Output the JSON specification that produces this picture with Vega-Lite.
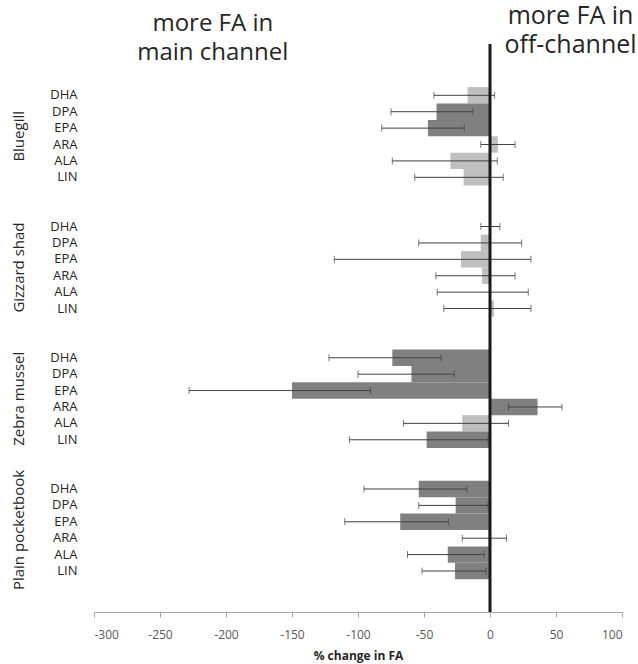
{
  "$schema": "https://vega.github.io/schema/vega-lite/v6.json",
  "autosize": {"type": "none"},
  "padding": {"left": 94, "top": 44, "right": 16, "bottom": 52},
  "width": 528,
  "height": 568,
  "config": {"view": {"stroke": null}, "font": "Open Sans"},
  "data": {"values": [
    {"g": "Bluegill", "fa": "DHA", "k": "Bluegill|DHA", "v": -17, "lo": -42.5, "hi": 3.5, "sig": "n"},
    {"g": "Bluegill", "fa": "DPA", "k": "Bluegill|DPA", "v": -40.5, "lo": -75, "hi": -13, "sig": "y"},
    {"g": "Bluegill", "fa": "EPA", "k": "Bluegill|EPA", "v": -47, "lo": -82, "hi": -19.5, "sig": "y"},
    {"g": "Bluegill", "fa": "ARA", "k": "Bluegill|ARA", "v": 6, "lo": -7, "hi": 19, "sig": "n"},
    {"g": "Bluegill", "fa": "ALA", "k": "Bluegill|ALA", "v": -30, "lo": -74, "hi": 5.5, "sig": "n"},
    {"g": "Bluegill", "fa": "LIN", "k": "Bluegill|LIN", "v": -20, "lo": -57, "hi": 10, "sig": "n"},
    {"g": "Gizzard shad", "fa": "DHA", "k": "Gizzard shad|DHA", "v": 0, "lo": -7, "hi": 7.5, "sig": "n"},
    {"g": "Gizzard shad", "fa": "DPA", "k": "Gizzard shad|DPA", "v": -7, "lo": -54, "hi": 24, "sig": "n"},
    {"g": "Gizzard shad", "fa": "EPA", "k": "Gizzard shad|EPA", "v": -22, "lo": -118, "hi": 31, "sig": "n"},
    {"g": "Gizzard shad", "fa": "ARA", "k": "Gizzard shad|ARA", "v": -6, "lo": -41, "hi": 19, "sig": "n"},
    {"g": "Gizzard shad", "fa": "ALA", "k": "Gizzard shad|ALA", "v": -0.5, "lo": -40, "hi": 29, "sig": "n"},
    {"g": "Gizzard shad", "fa": "LIN", "k": "Gizzard shad|LIN", "v": 3, "lo": -35, "hi": 31, "sig": "n"},
    {"g": "Zebra mussel", "fa": "DHA", "k": "Zebra mussel|DHA", "v": -74, "lo": -122, "hi": -37, "sig": "y"},
    {"g": "Zebra mussel", "fa": "DPA", "k": "Zebra mussel|DPA", "v": -59.5, "lo": -100, "hi": -27, "sig": "y"},
    {"g": "Zebra mussel", "fa": "EPA", "k": "Zebra mussel|EPA", "v": -150, "lo": -228, "hi": -90.5, "sig": "y"},
    {"g": "Zebra mussel", "fa": "ARA", "k": "Zebra mussel|ARA", "v": 36, "lo": 14, "hi": 54.5, "sig": "y"},
    {"g": "Zebra mussel", "fa": "ALA", "k": "Zebra mussel|ALA", "v": -21, "lo": -65.5, "hi": 14, "sig": "n"},
    {"g": "Zebra mussel", "fa": "LIN", "k": "Zebra mussel|LIN", "v": -48, "lo": -106.5, "hi": -1.5, "sig": "y"},
    {"g": "Plain pocketbook", "fa": "DHA", "k": "Plain pocketbook|DHA", "v": -54, "lo": -95.5, "hi": -17.5, "sig": "y"},
    {"g": "Plain pocketbook", "fa": "DPA", "k": "Plain pocketbook|DPA", "v": -26, "lo": -54, "hi": -1.5, "sig": "y"},
    {"g": "Plain pocketbook", "fa": "EPA", "k": "Plain pocketbook|EPA", "v": -68, "lo": -110, "hi": -31.5, "sig": "y"},
    {"g": "Plain pocketbook", "fa": "ARA", "k": "Plain pocketbook|ARA", "v": -1.5, "lo": -21, "hi": 12.5, "sig": "n"},
    {"g": "Plain pocketbook", "fa": "ALA", "k": "Plain pocketbook|ALA", "v": -32, "lo": -62.5, "hi": -4.5, "sig": "y"},
    {"g": "Plain pocketbook", "fa": "LIN", "k": "Plain pocketbook|LIN", "v": -26.5, "lo": -51.5, "hi": -3, "sig": "y"}
  ]},
  "encoding": {
    "y": {
      "field": "k", "type": "nominal",
      "scale": {
        "domain": ["_a", "_b",
          "Bluegill|DHA", "Bluegill|DPA", "Bluegill|EPA", "Bluegill|ARA", "Bluegill|ALA", "Bluegill|LIN",
          "_c", "_d",
          "Gizzard shad|DHA", "Gizzard shad|DPA", "Gizzard shad|EPA", "Gizzard shad|ARA", "Gizzard shad|ALA", "Gizzard shad|LIN",
          "_e", "_f",
          "Zebra mussel|DHA", "Zebra mussel|DPA", "Zebra mussel|EPA", "Zebra mussel|ARA", "Zebra mussel|ALA", "Zebra mussel|LIN",
          "_g", "_h",
          "Plain pocketbook|DHA", "Plain pocketbook|DPA", "Plain pocketbook|EPA", "Plain pocketbook|ARA", "Plain pocketbook|ALA", "Plain pocketbook|LIN",
          "_i", "_j"],
        "paddingInner": 0, "paddingOuter": 0.314, "align": 1, "round": false
      },
      "axis": {
        "title": null, "domain": false, "ticks": false, "labelPadding": 17,
        "labelFontSize": 13, "labelColor": "#262626",
        "labelExpr": "indexof(datum.value, '|') >= 0 ? split(datum.value, '|')[1] : ''"
      }
    }
  },
  "layer": [
    {
      "mark": {"type": "bar"},
      "encoding": {
        "x": {
          "field": "v", "type": "quantitative",
          "scale": {"domain": [-300, 100], "nice": false},
          "axis": {
            "values": [-300, -250, -200, -150, -100, -50, 0, 50, 100],
            "labelExpr": "replace(datum.label, '\u2212', '-')",
            "grid": false, "domainColor": "#a6a6a6", "tickColor": "#a6a6a6", "tickSize": 5,
            "labelColor": "#595959", "labelFontSize": 12, "labelPadding": 12,
            "title": "% change in FA", "titleFontSize": 12, "titleFontWeight": "bold",
            "titleColor": "#262626", "titlePadding": 10
          }
        },
        "color": {
          "field": "sig", "type": "nominal",
          "scale": {"domain": ["y", "n"], "range": ["#808080", "#bfbfbf"]},
          "legend": null
        }
      }
    },
    {
      "mark": {"type": "rule", "color": "#404040", "strokeWidth": 1},
      "encoding": {
        "x": {"field": "lo", "type": "quantitative"},
        "x2": {"field": "hi"}
      }
    },
    {
      "mark": {"type": "tick", "color": "#404040", "thickness": 1, "size": 7},
      "encoding": {"x": {"field": "lo", "type": "quantitative"}}
    },
    {
      "mark": {"type": "tick", "color": "#404040", "thickness": 1, "size": 7},
      "encoding": {"x": {"field": "hi", "type": "quantitative"}}
    },
    {
      "data": {"values": [{"ref": "zero"}]},
      "mark": {"type": "rule", "color": "#1a1a1a", "strokeWidth": 3},
      "encoding": {"x": {"datum": 0, "type": "quantitative"}, "y": null}
    },
    {
      "data": {"values": [{"side": "main"}]},
      "mark": {"type": "text", "align": "center", "baseline": "alphabetic", "fontSize": 24, "lineHeight": 29, "color": "#262626", "dy": -31.6},
      "encoding": {
        "x": {"datum": -210, "type": "quantitative"},
        "y": {"datum": "_a", "type": "nominal"},
        "text": {"value": ["more FA in", "main channel"]}
      }
    },
    {
      "data": {"values": [{"side": "off"}]},
      "mark": {"type": "text", "align": "center", "baseline": "alphabetic", "fontSize": 25, "lineHeight": 29.5, "color": "#262626", "dy": -38.6},
      "encoding": {
        "x": {"datum": 61, "type": "quantitative"},
        "y": {"datum": "_a", "type": "nominal"},
        "text": {"value": ["more FA in", "off-channel"]}
      }
    },
    {
      "data": {"values": [
        {"g": "Bluegill", "anchor": "Bluegill|ARA"},
        {"g": "Gizzard shad", "anchor": "Gizzard shad|ARA"},
        {"g": "Zebra mussel", "anchor": "Zebra mussel|ARA"},
        {"g": "Plain pocketbook", "anchor": "Plain pocketbook|ARA"}
      ]},
      "mark": {"type": "text", "angle": 270, "align": "center", "baseline": "middle", "fontSize": 15, "color": "#262626"},
      "encoding": {
        "x": {"datum": -357, "type": "quantitative"},
        "y": {"field": "anchor", "type": "nominal", "bandPosition": 0},
        "text": {"field": "g"}
      }
    }
  ]
}
